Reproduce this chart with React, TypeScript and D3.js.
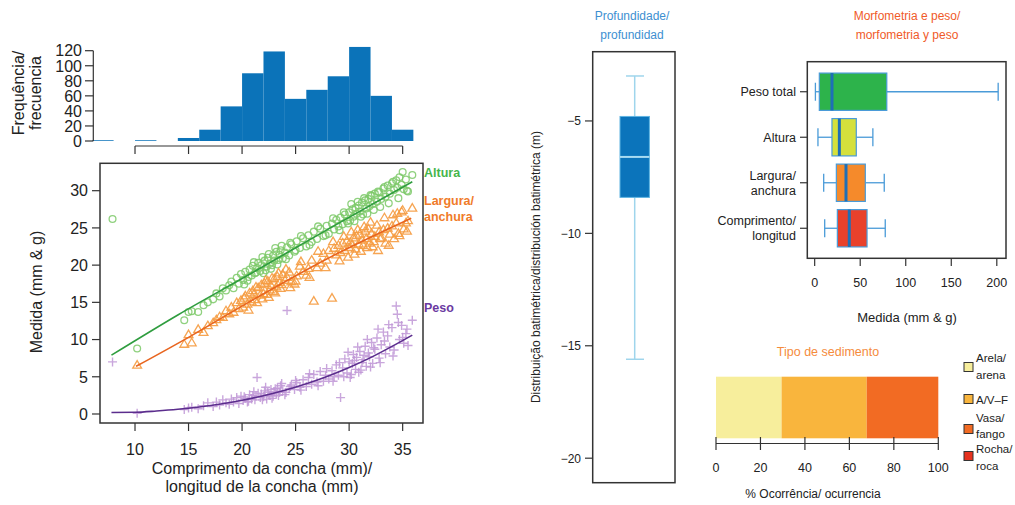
import React from 'react';
import * as d3 from 'd3';

const FONT = '"Liberation Sans", Arial, Helvetica, sans-serif';

// histogram of shell length (2 mm bins)
const lengthBinEdges = [6, 8, 10, 12, 14, 16, 18, 20, 22, 24, 26, 28, 30, 32, 34, 36];
const lengthBinCounts = [1, 0, 1, 0, 4, 15, 46, 90, 119, 56, 68, 86, 125, 60, 15];
const freqTicks = [0, 20, 40, 60, 80, 100, 120];
const lengthTicks = [10, 15, 20, 25, 30, 35];
const measureTicks = [0, 5, 10, 15, 20, 25, 30];

// one entry per specimen
const lengthMm = [
  7.9, 10.2, 14.6, 15.0, 15.3, 15.9, 16.4, 16.8, 17.3, 17.6,
  17.9, 18.2, 18.5, 18.8, 19.0, 19.2, 19.5, 19.7, 19.9, 20.1,
  20.3, 20.5, 20.7, 20.9, 21.0, 21.2, 21.4, 21.5, 21.7, 21.8,
  22.0, 22.1, 22.3, 22.4, 22.6, 22.7, 22.9, 23.0, 23.2, 23.3,
  23.5, 23.6, 23.8, 24.0, 24.2, 24.4, 24.6, 24.9, 25.1, 25.4,
  25.7, 26.0, 26.2, 26.5, 26.7, 27.0, 27.3, 27.6, 27.9, 28.1,
  28.4, 28.6, 28.8, 29.0, 29.2, 29.4, 29.6, 29.8, 30.0, 30.1,
  30.3, 30.4, 30.6, 30.7, 30.9, 31.0, 31.2, 31.3, 31.5, 31.6,
  31.8, 31.9, 32.1, 32.2, 32.4, 32.6, 32.8, 33.0, 33.2, 33.4,
  33.6, 33.8, 34.0, 34.2, 34.4, 34.5, 34.7, 34.9, 35.1, 35.3,
  35.5, 35.9, 20.2, 20.6, 21.1, 21.3, 21.9, 22.2, 22.5, 22.8,
  23.1, 23.4, 23.7, 24.1, 24.5, 25.0, 25.5, 26.3, 27.1, 27.8,
  28.5, 29.1, 29.5, 29.9, 30.2, 30.5, 30.8, 31.1, 31.4, 31.7,
  32.0, 32.3, 32.7, 32.9, 33.3, 33.7, 34.1, 34.6, 35.0, 35.4,
];
const heightMm = [
  26.2, 8.8, 12.6, 13.7, 13.8, 13.7, 14.6, 15.0, 15.4, 16.2,
  15.8, 16.9, 16.6, 17.3, 17.8, 16.9, 18.3, 17.5, 18.8, 18.0,
  19.1, 17.9, 19.4, 18.6, 19.9, 18.9, 19.6, 20.3, 19.2, 20.0,
  18.9, 20.6, 19.8, 21.0, 20.2, 19.5, 21.3, 20.6, 21.8, 20.1,
  21.4, 22.0, 20.9, 21.7, 22.4, 21.3, 22.8, 21.8, 23.2, 22.3,
  23.6, 22.5, 24.0, 23.1, 24.5, 23.5, 24.9, 23.9, 25.3, 24.2,
  25.6, 24.8, 26.1, 25.2, 26.4, 25.5, 26.8, 25.9, 27.1, 26.0,
  27.5, 26.5, 27.7, 26.9, 28.0, 27.2, 28.4, 26.8, 28.7, 27.6,
  28.9, 27.9, 29.3, 28.2, 29.6, 28.5, 29.8, 28.9, 30.3, 29.2,
  30.7, 29.6, 31.0, 30.1, 31.4, 30.4, 31.8, 30.8, 30.2, 31.5,
  29.9, 32.1, 17.4, 18.4, 20.4, 19.0, 21.1, 19.3, 21.5, 20.0,
  22.3, 20.7, 22.6, 20.8, 23.0, 22.0, 23.9, 22.7, 25.2, 24.0,
  26.3, 24.7, 27.1, 25.6, 28.2, 25.9, 28.5, 26.5, 29.0, 26.9,
  29.4, 27.4, 29.9, 27.8, 30.5, 28.3, 31.2, 29.0, 32.5, 30.0,
];
const widthMm = [
  null, 6.5, 9.3, 10.6, 9.5, 11.3, 10.9, 11.8, 12.2, 12.6,
  13.0, 12.9, 13.8, 13.4, 14.3, 13.6, 14.9, 14.1, 15.2, 14.3,
  15.8, 14.7, 16.2, 15.0, 16.5, 15.3, 14.9, 16.9, 15.9, 17.3,
  16.1, 17.5, 16.0, 17.8, 16.6, 17.2, 16.4, 18.1, 17.0, 18.4,
  17.6, 16.8, 18.7, 17.9, 18.3, 19.0, 17.7, 17.4, 18.5, 19.8,
  19.1, 18.6, 19.5, 20.6, 15.1, 19.6, 20.2, 21.5, 20.6, 21.9,
  15.5, 22.2, 21.3, 22.6, 21.6, 22.9, 21.9, 23.2, 22.3, 23.0,
  22.7, 23.6, 22.1, 23.9, 22.8, 24.1, 23.3, 22.6, 24.5, 23.5,
  24.8, 22.9, 24.2, 22.4, 23.8, 25.3, 24.4, 23.6, 24.7, 22.9,
  24.9, 24.1, 25.2, 23.5, 25.6, 26.9, 23.9, 27.1, 24.8, 25.6,
  25.9, 27.6, 15.5, 13.9, 16.0, 17.0, 15.4, 17.9, 15.6, 18.2,
  16.2, 18.9, 17.3, 19.4, 16.9, 17.8, 20.4, 18.3, 21.8, 19.6,
  23.1, 20.5, 23.8, 21.0, 24.4, 21.4, 24.7, 21.8, 25.1, 22.3,
  25.7, 23.1, 21.9, 23.5, 26.3, 22.6, 26.7, 24.2, 27.3, 24.5,
];
const weightG = [
  7.0, 0.1, 0.6, 0.8, 0.9, 0.7, 1.1, 1.5, 1.0, 1.6,
  1.2, 1.9, 1.5, 1.3, 2.0, 1.6, 2.2, 1.4, 2.4, 1.8,
  2.1, 1.6, 2.6, 2.0, 2.5, 1.9, 4.9, 2.8, 2.2, 2.7,
  2.3, 3.1, 2.0, 2.9, 2.5, 3.3, 2.4, 3.0, 2.7, 3.5,
  2.9, 3.8, 3.1, 2.6, 13.9, 3.4, 3.9, 3.3, 4.2, 3.6,
  4.6, 3.7, 4.9, 4.0, 5.3, 4.3, 5.7, 4.4, 6.1, 4.7,
  5.8, 5.0, 6.6, 5.2, 2.2, 6.2, 7.4, 5.5, 7.0, 4.9,
  6.8, 8.0, 6.0, 7.6, 5.6, 8.4, 6.9, 7.3, 9.1, 6.4,
  8.2, 7.7, 9.6, 6.8, 8.7, 10.2, 7.5, 9.3, 11.0, 8.1,
  10.5, 9.0, 11.6, 8.6, 14.5, 13.4, 10.0, 11.9, 9.5, 10.8,
  9.2, 12.6, 2.3, 1.7, 3.0, 2.4, 1.9, 3.6, 2.6, 2.1,
  3.4, 2.5, 4.1, 2.9, 3.7, 4.5, 3.2, 5.4, 3.8, 5.2,
  4.4, 6.9, 5.0, 8.3, 5.3, 7.2, 9.0, 5.9, 7.9, 10.0,
  6.3, 8.9, 11.4, 6.9, 9.8, 12.0, 7.8, 12.3, 10.3, 11.4,
];

// fitted curves as drawn
const heightFitX = [7.8, 14, 20.5, 28, 35.9];
const heightFitY = [7.9, 13.3, 18.6, 24.8, 31.2];
const widthFitX = [10.1, 15, 20.6, 28, 35.8];
const widthFitY = [6.4, 10.3, 15.0, 20.9, 26.3];
const weightFitX = [7.8, 10, 12, 14, 16, 18, 20, 22, 24, 26, 28, 30, 32, 34, 35.9];
const weightFitY = [0.2, 0.23, 0.4, 0.63, 0.95, 1.35, 1.85, 2.46, 3.19, 4.06, 5.07, 6.24, 7.57, 9.08, 10.6];

// depth boxplot: min, q1, median, q3, max
const depthBox = [-15.6, -8.4, -6.6, -4.8, -3.0];
const depthTicks = [-5, -10, -15, -20];

// morphometry boxplots (bottom to top)
const morphLabels = [['Comprimento/', 'longitud'], ['Largura/', 'anchura'], ['Altura'], ['Peso total']];
const morphMin = [11, 9.9, 3.6, 0.8];
const morphQ1 = [24.9, 23.8, 19, 5.1];
const morphMedian = [38, 34.4, 27.1, 19];
const morphQ3 = [57.5, 55.6, 45.7, 79.2];
const morphMax = [77.5, 76.4, 63.9, 201.5];
const morphFills = ['#e8412b', '#f58a2b', '#d5e03c', '#2db34b'];
const morphTicks = [0, 50, 100, 150, 200];

// sediment type occurrence (%)
const sedimentLabels = [['Arela/', 'arena'], ['A/V–F'], ['Vasa/', 'fango'], ['Rocha/', 'roca']];
const sedimentPct = [29.5, 38.3, 32.2, 0];
const sedimentColors = ['#f7ee9c', '#f9b53d', '#f26b23', '#e6321f'];
const pctTicks = [0, 20, 40, 60, 80, 100];

const INK = '#333';

export default function App() {
  // shared length scale for histogram and scatter
  const x = d3.scaleLinear().domain([6.73, 36.9]).range([100, 423]);
  const yHist = d3.scaleLinear().domain([0, 120]).range([141, 50.7]);
  const y = d3.scaleLinear().domain([-1.21, 33.68]).range([423, 163.3]);

  const yDepth = d3.scaleLinear().domain([-21.09, -1.92]).range([482.7, 51.7]);
  const xMorph = d3.scaleLinear().domain([-8.1, 210.1]).range([807.3, 1006]);
  const yMorph = d3.scaleLinear().domain([0.34, 4.66]).range([258.3, 61.7]);
  const xPct = d3.scaleLinear().domain([0, 100]).range([716, 938.3]);

  const fitLine = (xs: number[], ys: number[]) =>
    d3.line<number>().x((d) => x(d)).y((_, i) => y(ys[i])).curve(d3.curveMonotoneX)(xs) || '';

  const tri = (cx: number, cy: number) =>
    `M${cx},${cy - 5}L${cx + 4.4},${cy + 2.5}L${cx - 4.4},${cy + 2.5}Z`;
  const cross = (cx: number, cy: number) =>
    `M${cx - 4.5},${cy}H${cx + 4.5}M${cx},${cy - 4.5}V${cy + 4.5}`;

  const sedStarts = sedimentPct.map((_, i) => d3.sum(sedimentPct.slice(0, i)));
  const boxHalf = yMorph(0) - yMorph(0.41);
  const legendRows = [[358, 375], [400], [418, 434], [449, 466]];
  const legendBoxY = [367, 399, 429, 456];

  return (
    <div style={{ position: 'fixed', left: 0, top: 0, background: '#fff' }}>
      <svg width={1015} height={505} style={{ display: 'block', fontFamily: FONT }}>
        <rect width={1015} height={505} fill="#fff" />

        {/* histogram */}
        {lengthBinCounts.map((c, i) =>
          c > 0 ? (
            <rect key={i} x={x(lengthBinEdges[i])} y={yHist(c)}
              width={x(lengthBinEdges[i + 1]) - x(lengthBinEdges[i])}
              height={yHist(0) - yHist(c)} fill="#0b73b9" />
          ) : null
        )}
        <line x1={93.3} x2={93.3} y1={yHist(0)} y2={yHist(120)} stroke={INK} strokeWidth={1.2} />
        {freqTicks.map((t) => (
          <g key={t}>
            <line x1={85} x2={93.3} y1={yHist(t)} y2={yHist(t)} stroke={INK} strokeWidth={1.2} />
            <text x={82} y={yHist(t)} dy="0.36em" textAnchor="end" fontSize={16} fill="#222">{t}</text>
          </g>
        ))}
        <line x1={x(10)} x2={x(35)} y1={146} y2={146} stroke={INK} strokeWidth={1.2} />
        {lengthTicks.map((t) => (
          <line key={t} x1={x(t)} x2={x(t)} y1={146} y2={154} stroke={INK} strokeWidth={1.2} />
        ))}
        <text transform="translate(24,93) rotate(-90)" textAnchor="middle" fontSize={16} fill="#222">Frequência/</text>
        <text transform="translate(41,93) rotate(-90)" textAnchor="middle" fontSize={16} fill="#222">frecuencia</text>

        {/* scatter */}
        <g fill="none">
          {lengthMm.map((L, i) => (
            <circle key={'h' + i} cx={x(L)} cy={y(heightMm[i])} r={3.4}
              stroke="#7cc968" strokeWidth={1.3} strokeOpacity={0.85} />
          ))}
          {lengthMm.map((L, i) =>
            widthMm[i] == null ? null : (
              <path key={'w' + i} d={tri(x(L), y(widthMm[i] as number))}
                stroke="#f59b40" strokeWidth={1.3} strokeOpacity={0.9} />
            )
          )}
          {lengthMm.map((L, i) => (
            <path key={'p' + i} d={cross(x(L), y(weightG[i]))}
              stroke="#bf97d6" strokeWidth={1.4} strokeOpacity={0.85} />
          ))}
          <path d={fitLine(heightFitX, heightFitY)} stroke="#2f9d3f" strokeWidth={1.6} />
          <path d={fitLine(widthFitX, widthFitY)} stroke="#e8651f" strokeWidth={1.6} />
          <path d={fitLine(weightFitX, weightFitY)} stroke="#5b2d8d" strokeWidth={1.6} />
        </g>
        <rect x={100} y={163.3} width={323} height={259.7} fill="none" stroke={INK} strokeWidth={1.5} />
        {measureTicks.map((t) => (
          <g key={t}>
            <line x1={92} x2={100} y1={y(t)} y2={y(t)} stroke={INK} strokeWidth={1.2} />
            <text x={88} y={y(t)} dy="0.36em" textAnchor="end" fontSize={16} fill="#222">{t}</text>
          </g>
        ))}
        {lengthTicks.map((t) => (
          <g key={t}>
            <line x1={x(t)} x2={x(t)} y1={423} y2={431} stroke={INK} strokeWidth={1.2} />
            <text x={x(t)} y={455} textAnchor="middle" fontSize={16} fill="#222">{t}</text>
          </g>
        ))}
        <text x={262} y={474} textAnchor="middle" fontSize={16} fill="#222">Comprimento da concha (mm)/</text>
        <text x={262} y={492} textAnchor="middle" fontSize={16} fill="#222">longitud de la concha (mm)</text>
        <text transform="translate(42,292) rotate(-90)" textAnchor="middle" fontSize={16} fill="#222">Medida (mm &amp; g)</text>
        <g fontSize={12.5} fontWeight="bold">
          <text x={424} y={177} fill="#46b54b">Altura</text>
          <text x={424} y={205} fill="#f07b29">Largura/</text>
          <text x={424} y={221} fill="#f07b29">anchura</text>
          <text x={424} y={312} fill="#6b3aa1">Peso</text>
        </g>

        {/* depth boxplot */}
        <text x={632} y={20} textAnchor="middle" fontSize={12} fill="#3d8fd1">Profundidade/</text>
        <text x={632} y={39} textAnchor="middle" fontSize={12} fill="#3d8fd1">profundidad</text>
        <line x1={634.7} x2={634.7} y1={yDepth(depthBox[0])} y2={yDepth(depthBox[4])} stroke="#9fd5ec" strokeWidth={1.5} />
        <line x1={626} x2={644} y1={yDepth(depthBox[0])} y2={yDepth(depthBox[0])} stroke="#9fd5ec" strokeWidth={1.5} />
        <line x1={626} x2={644} y1={yDepth(depthBox[4])} y2={yDepth(depthBox[4])} stroke="#9fd5ec" strokeWidth={1.5} />
        <rect x={620} y={yDepth(depthBox[3])} width={29.4} height={yDepth(depthBox[1]) - yDepth(depthBox[3])}
          fill="#0b74bb" stroke="#5fb4e2" strokeWidth={1} />
        <line x1={620} x2={649.4} y1={yDepth(depthBox[2])} y2={yDepth(depthBox[2])} stroke="#a9dcf2" strokeWidth={2} />
        <rect x={592.7} y={51.7} width={82.3} height={431} fill="none" stroke={INK} strokeWidth={1.5} />
        {depthTicks.map((t) => (
          <g key={t}>
            <line x1={585} x2={592.7} y1={yDepth(t)} y2={yDepth(t)} stroke={INK} strokeWidth={1.2} />
            <text x={581} y={yDepth(t)} dy="0.36em" textAnchor="end" fontSize={12} fill="#222">{String(t).replace('-', '−')}</text>
          </g>
        ))}
        <text transform="translate(540,267) rotate(-90)" textAnchor="middle" fontSize={12} fill="#222">
          Distribuição batimétrica/distribución batimétrica (m)
        </text>

        {/* morphometry boxplots */}
        <text x={907} y={20} textAnchor="middle" fontSize={12} fill="#f05a29">Morfometria e peso/</text>
        <text x={907} y={39} textAnchor="middle" fontSize={12} fill="#f05a29">morfometria y peso</text>
        {morphLabels.map((lab, i) => {
          const cy = yMorph(i + 1);
          return (
            <g key={i}>
              <line x1={xMorph(morphMin[i])} x2={xMorph(morphQ1[i])} y1={cy} y2={cy} stroke="#4a9bd8" strokeWidth={1.3} />
              <line x1={xMorph(morphQ3[i])} x2={xMorph(morphMax[i])} y1={cy} y2={cy} stroke="#4a9bd8" strokeWidth={1.3} />
              <line x1={xMorph(morphMin[i])} x2={xMorph(morphMin[i])} y1={cy - 9} y2={cy + 9} stroke="#4a9bd8" strokeWidth={1.3} />
              <line x1={xMorph(morphMax[i])} x2={xMorph(morphMax[i])} y1={cy - 9} y2={cy + 9} stroke="#4a9bd8" strokeWidth={1.3} />
              <rect x={xMorph(morphQ1[i])} y={cy - boxHalf} width={xMorph(morphQ3[i]) - xMorph(morphQ1[i])}
                height={boxHalf * 2} fill={morphFills[i]} stroke="#4a9bd8" strokeWidth={1.2} />
              <line x1={xMorph(morphMedian[i])} x2={xMorph(morphMedian[i])} y1={cy - boxHalf} y2={cy + boxHalf}
                stroke="#1e6fb6" strokeWidth={3} />
              <line x1={800} x2={807.3} y1={cy} y2={cy} stroke={INK} strokeWidth={1.2} />
              {lab.map((s, j) => (
                <text key={j} x={796} y={cy + (j - (lab.length - 1) / 2) * 15} dy="0.36em" textAnchor="end"
                  fontSize={12.5} fill="#222">{s}</text>
              ))}
            </g>
          );
        })}
        <rect x={807.3} y={61.7} width={198.7} height={196.6} fill="none" stroke={INK} strokeWidth={1.5} />
        {morphTicks.map((t) => (
          <g key={t}>
            <line x1={xMorph(t)} x2={xMorph(t)} y1={258.3} y2={266} stroke={INK} strokeWidth={1.2} />
            <text x={xMorph(t)} y={287} textAnchor="middle" fontSize={12.5} fill="#222">{t}</text>
          </g>
        ))}
        <text x={907} y={322} textAnchor="middle" fontSize={13} fill="#222">Medida (mm &amp; g)</text>

        {/* sediment type */}
        <text x={828} y={356} textAnchor="middle" fontSize={12.5} fill="#f58b3c">Tipo de sedimento</text>
        {sedimentPct.map((p, i) =>
          p > 0 ? (
            <rect key={i} x={xPct(sedStarts[i])} y={376.7} width={xPct(sedStarts[i] + p) - xPct(sedStarts[i])}
              height={61.6} fill={sedimentColors[i]} />
          ) : null
        )}
        <line x1={xPct(0)} x2={xPct(100)} y1={443.5} y2={443.5} stroke={INK} strokeWidth={1.2} />
        {pctTicks.map((t) => (
          <g key={t}>
            <line x1={xPct(t)} x2={xPct(t)} y1={437} y2={450} stroke={INK} strokeWidth={1.2} />
            <text x={xPct(t)} y={472} textAnchor="middle" fontSize={12.5} fill="#222">{t}</text>
          </g>
        ))}
        <text x={813} y={498} textAnchor="middle" fontSize={12} fill="#222">% Ocorrência/ ocurrencia</text>
        {sedimentLabels.map((lab, i) => (
          <g key={i}>
            <rect x={964} y={legendBoxY[i] - 4.5} width={9} height={9} fill={sedimentColors[i]} stroke="#333" strokeWidth={1} />
            {lab.map((s, j) => (
              <text key={j} x={976} y={legendRows[i][j]} dy="0.36em" fontSize={11.5} fill="#222">{s}</text>
            ))}
          </g>
        ))}
      </svg>
    </div>
  );
}
